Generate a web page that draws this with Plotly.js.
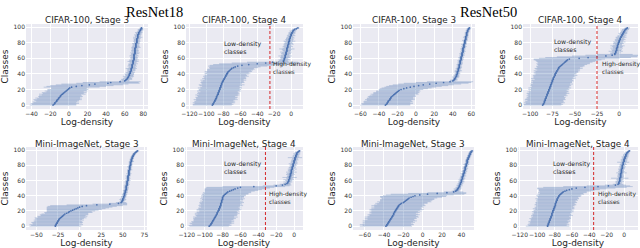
<!DOCTYPE html>
<html>
<head>
<meta charset="utf-8">
<script src="https://cdn.plot.ly/plotly-3.0.1.min.js"></script>
<style>html,body{margin:0;padding:0;background:#fff;}#chart{width:640px;height:248px;}</style>
</head>
<body>
<div id="chart"></div>
<script>
// ---- DATA ----
const classIdx = [0,1,2,3,4,5,6,7,8,9,10,11,12,13,14,15,16,17,18,19,20,21,22,23,24,25,26,27,28,29,30,31,32,33,34,35,36,37,38,39,40,41,42,43,44,45,46,47,48,49,50,51,52,53,54,55,56,57,58,59,60,61,62,63,64,65,66,67,68,69,70,71,72,73,74,75,76,77,78,79,80,81,82,83,84,85,86,87,88,89,90,91,92,93,94,95,96,97,98,99];

const panelTitles = ["CIFAR-100, Stage 3","CIFAR-100, Stage 4","CIFAR-100, Stage 3","CIFAR-100, Stage 4",
                     "Mini-ImageNet, Stage 3","Mini-ImageNet, Stage 4","Mini-ImageNet, Stage 3","Mini-ImageNet, Stage 4"];
const modelTitles = ["ResNet18","ResNet50"];
const thresholds = [null,-25,null,-25,null,-32,null,-35];

// ResNet18, CIFAR-100, Stage 3
const r18CifarS3Mean = [-17,-16,-15,-15,-14,-13,-13,-12,-11,-11,-10,-9,-9,-8,-7,-6,-5,-4,-3,-2,-1,0,1,
  3,8,14,22,28,42,45,55,
  60,61,62,63,63,64,64,65,65,65,66,66,66,67,67,67,67,68,68,68,68,68,69,69,69,69,69,70,70,70,
  70,70,70,70,70,71,71,71,71,71,71,71,71,72,72,72,72,72,72,73,73,73,73,73,73,74,74,74,74,74,75,75,75,76,76,77,77,78,78];
const r18CifarS3Err = [25,24,26,23,25,22,24,26,23,25,22,24,23,21,25,22,24,20,23,21,22,19,20,
  30,32,34,36,36,34,30,22,
  5,4,6,5,4,5,6,4,5,5,4,5,3,4,5,4,6,4,3,5,4,4,5,3,4,6,4,5,3,4,4,3,5,4,3,4,5,3,4,4,
  3,4,3,5,4,3,4,3,4,3,3,4,3,3,4,3,5,3,3,4,3,3,4,3,2,3,3,2,2];

// ResNet18, CIFAR-100, Stage 4
const r18CifarS4Mean = [-93,-92,-92,-91,-91,-90,-90,-89,-89,-88,-88,-88,-87,-87,-86,-86,-86,-85,-85,-85,
  -84,-84,-84,-83,-83,-83,-82,-82,-82,-81,-81,-80,-80,-79,-79,-78,-78,-77,-77,-76,
  -76,-75,-75,-74,-73,-72,-71,-70,-68,-66,
  -63,-58,-50,-40,-30,-22,
  -9,-9,-8,-8,-8,-7,-7,-7,-7,-6,-6,-6,-6,-5,-5,-5,-5,-5,-4,-4,-4,-4,-3,-3,-3,-3,-2,-2,-2,-2,
  -1,-1,-1,0,0,0,1,1,2,2,3,4,6,8];
const r18CifarS4Err = [23,24,22,25,23,24,22,26,23,24,25,22,24,26,23,25,24,22,26,24,
  25,23,26,24,22,25,27,23,24,26,25,24,27,23,26,25,24,27,25,23,26,27,25,28,26,27,28,26,29,30,
  35,38,42,45,40,30,
  6,5,7,5,4,6,5,8,5,4,6,5,7,4,5,6,9,5,4,6,5,4,6,5,4,5,7,4,5,4,5,4,3,5,4,3,4,4,3,4,3,3,2,2];

// ResNet50, CIFAR-100, Stage 3
const r50CifarS3Mean = [-33,-32,-31,-31,-30,-30,-29,-28,-28,-27,-27,-26,-25,-24,-23,-22,-21,-20,-19,-18,
  -16,-13,-10,-6,-2,3,8,15,22,30,37,
  40,41,42,42,43,43,44,44,44,45,45,45,45,46,46,46,46,47,47,47,47,47,48,48,48,48,48,49,49,49,
  49,49,50,50,50,50,50,51,51,51,51,51,51,52,52,52,52,52,53,53,53,53,53,54,54,54,54,54,55,55,
  55,55,55,56,56,56,57,57,58];
const r50CifarS3Err = [27,26,28,25,27,26,24,27,25,26,24,26,25,23,26,24,25,23,24,22,
  24,26,27,28,30,32,33,34,35,30,25,
  3,4,3,2,3,4,3,3,2,3,3,2,3,4,3,2,3,3,2,3,2,3,3,2,3,2,3,2,3,2,3,2,2,3,2,3,2,2,3,2,
  2,3,2,2,3,2,2,3,2,2,2,2,3,2,2,2,3,2,2,2,2,2,2,2,2,2,2,2,2];

// ResNet50, CIFAR-100, Stage 4
const r50CifarS4Mean = [-86,-85,-85,-84,-84,-84,-83,-83,-83,-82,-82,-82,-81,-81,-81,-80,-80,-80,-79,-79,
  -79,-78,-78,-78,-77,-77,-77,-76,-76,-76,-75,-75,-75,-74,-74,-74,-73,-73,-72,-72,
  -72,-71,-71,-70,-70,-69,-69,-68,-68,-67,-66,-65,-64,-63,-62,-61,-60,-59,-58,-56,
  -45,-35,-25,-15,-8,-5,
  -5,-4,-4,-4,-3,-3,-3,-3,-2,-2,-2,-2,-1,-1,-1,0,0,0,1,1,1,2,2,3,3,4,4,5,5,6,6,7,8,9];
const r50CifarS4Err = [21,22,20,23,21,22,20,23,22,21,22,20,23,21,22,24,21,23,22,20,
  23,21,24,22,21,23,22,24,21,23,22,24,23,21,25,22,24,23,25,22,24,23,25,24,26,23,25,27,24,26,
  27,26,28,30,29,31,33,35,38,40,
  45,48,45,38,30,20,
  5,6,4,8,5,6,4,7,5,6,8,5,4,6,5,7,4,5,6,4,5,6,4,5,3,4,5,4,3,4,3,4,3,3];

// ResNet18, Mini-ImageNet, Stage 3
const r18MiniS3Mean = [-28,-28,-27,-27,-26,-26,-25,-25,-24,-24,-23,-22,-21,-20,-19,-18,-17,-15,-13,-12,
  -10,-8,-6,-4,-2,0,3,8,
  20,35,45,48,
  49,49,50,50,50,51,51,51,52,52,52,52,53,53,53,53,54,54,54,54,54,54,55,55,55,55,55,55,56,56,
  56,56,56,56,56,57,57,57,57,57,57,57,58,58,58,58,58,58,59,59,59,59,59,60,60,60,60,61,61,61,
  62,62,63,63,64,65,66,67];
const r18MiniS3Err = [30,28,31,27,29,30,28,26,29,27,28,30,27,29,26,28,27,25,28,26,
  28,30,32,34,36,38,40,42,
  35,20,10,6,
  3,2,3,4,3,2,3,3,2,3,3,2,3,2,3,3,2,3,2,3,2,3,2,3,2,2,3,2,3,2,2,3,2,2,3,2,2,3,2,2,
  2,2,3,2,2,2,3,2,2,2,2,2,2,3,2,2,2,2,2,2,2,2,2,2,2,2,2,2];

// ResNet18, Mini-ImageNet, Stage 4
const r18MiniS4Mean = [-95,-94,-93,-93,-92,-92,-91,-91,-90,-90,-89,-89,-88,-88,-87,-87,-86,-86,-86,-85,
  -85,-84,-84,-84,-83,-83,-83,-82,-82,-82,-82,-81,-81,-81,-81,-80,-80,-80,-80,-79,
  -79,-78,-77,-76,-75,-74,-72,-70,-68,-66,
  -63,-60,-45,-20,-13,-10,
  -8,-7,-7,-6,-6,-6,-5,-5,-5,-5,-4,-4,-4,-4,-3,-3,-3,-3,-3,-2,-2,-2,-2,-1,-1,-1,-1,0,0,0,
  0,1,1,1,1,2,2,2,3,3,3,4,5,6];
const r18MiniS4Err = [22,24,21,23,25,22,24,21,23,22,24,22,25,21,23,24,22,25,23,21,
  24,22,25,23,24,21,23,25,22,24,23,25,22,24,21,23,25,22,24,23,25,24,26,25,27,26,28,30,32,34,
  36,38,35,15,10,6,
  4,3,5,3,4,6,3,4,8,3,4,3,5,4,3,6,3,4,3,5,3,4,3,3,4,3,5,3,4,3,3,4,3,3,8,3,4,3,3,4,3,3,2,2];

// ResNet50, Mini-ImageNet, Stage 3
const r50MiniS3Mean = [-38,-37,-37,-36,-36,-35,-35,-34,-34,-33,-33,-32,-32,-31,-31,-30,-30,-30,-29,-29,
  -28,-28,-27,-27,-26,-26,-25,-25,-24,-23,-22,-20,-19,-18,-17,-16,-15,-14,-12,-10,
  -8,-3,5,15,25,32,
  34,35,36,36,37,37,38,38,38,39,39,39,40,40,40,40,41,41,41,41,42,42,42,42,43,43,43,43,44,44,
  44,44,44,45,45,45,45,46,46,46,46,46,47,47,47,48,48,48,49,49,49,50,50,51];
const r50MiniS3Err = [27,25,28,26,24,27,25,28,26,24,27,25,28,26,24,27,25,23,26,24,
  27,25,28,26,24,27,25,28,26,24,27,25,28,26,27,28,27,29,32,34,
  33,35,38,30,20,10,
  4,3,3,4,3,3,2,3,3,2,3,2,3,3,2,3,2,3,2,2,3,2,2,3,2,2,3,2,2,2,3,2,2,2,2,3,2,2,2,2,
  2,2,2,2,2,2,2,2,2,2,2,2,2,2];

// ResNet50, Mini-ImageNet, Stage 4
const r50MiniS4Mean = [-88,-88,-87,-87,-87,-86,-86,-86,-85,-85,-85,-84,-84,-84,-83,-83,-83,-83,-82,-82,
  -82,-81,-81,-81,-80,-80,-80,-79,-79,-79,-79,-78,-78,-78,-77,-77,-77,-76,-76,-75,
  -75,-74,-73,-72,-71,-70,-68,-66,-63,-60,
  -55,-45,-30,-18,-10,-7,
  -6,-6,-6,-5,-5,-5,-5,-5,-4,-4,-4,-4,-4,-4,-3,-3,-3,-3,-3,-3,-2,-2,-2,-2,-2,-1,-1,-1,-1,0,
  0,0,0,1,1,1,2,2,2,3,3,4,5,6];
const r50MiniS4Err = [25,22,24,21,23,22,24,21,23,22,24,22,23,21,24,22,23,21,22,24,
  22,23,21,24,22,23,21,22,24,23,22,24,23,22,24,23,25,24,23,25,26,24,27,25,28,27,30,32,35,40,
  45,48,40,25,12,6,
  3,4,3,5,3,4,3,10,3,4,3,4,3,3,6,3,4,3,3,4,3,3,4,3,3,4,3,3,7,3,3,4,3,3,3,4,3,3,3,3,3,2,2,2];

// panel order: row 1 (R18 S3, R18 S4, R50 S3, R50 S4), row 2 likewise for Mini-ImageNet
const panelMeans = [r18CifarS3Mean, r18CifarS4Mean, r50CifarS3Mean, r50CifarS4Mean,
                    r18MiniS3Mean, r18MiniS4Mean, r50MiniS3Mean, r50MiniS4Mean];
const panelErrs  = [r18CifarS3Err, r18CifarS4Err, r50CifarS3Err, r50CifarS4Err,
                    r18MiniS3Err, r18MiniS4Err, r50MiniS3Err, r50MiniS4Err];

// ---- LAYOUT (pixels) ----
const W = 640, H = 248;
const colPx = [[26,148],[186,303],[353,475],[523,638],[26,147],[185,303],[353,474],[518,638]];
const rowPx = [[24,109],[147,230]];
const xRanges = [[-46,85],[-124,14],[-68,64],[-108,21],[-62,78],[-122,10],[-72,53],[-122,16]];
const xDticks = [20,20,20,25,25,20,20,20];
// annotation anchor positions in data units [x, y] for low / high labels
const lowPos  = {1:[-81,74.5], 3:[-75.5,75.8], 5:[-80.6,77.7], 7:[-83.5,77.7]};
const highPos = {1:[-24,47.6], 3:[-22,47.6], 5:[-30.3,38.3], 7:[-32.5,38.3]};

const px2x = p => p / W;
const py2y = p => 1 - p / H;

const traces = [];
const layout = {
  width: W, height: H,
  margin: {l:0, r:0, t:0, b:0},
  paper_bgcolor: '#ffffff',
  plot_bgcolor: '#EAEAF2',
  showlegend: false,
  font: {family: 'DejaVu Sans, sans-serif', color: '#262626'},
  annotations: [],
  shapes: []
};

for (let i = 0; i < 8; i++) {
  const n = i + 1;
  const row = i < 4 ? 0 : 1;
  const xs = n === 1 ? '' : String(n);
  traces.push({
    type: 'scatter', mode: 'markers',
    x: panelMeans[i], y: classIdx,
    xaxis: 'x' + xs, yaxis: 'y' + xs,
    marker: {size: 1.7, color: '#4C72B0'},
    error_x: {type: 'data', array: panelErrs[i], symmetric: true,
              color: 'rgba(76,114,176,0.33)', thickness: 0.9, width: 0},
    hoverinfo: 'x+y'
  });
  const xd = [px2x(colPx[i][0]), px2x(colPx[i][1])];
  const yd = [py2y(rowPx[row][1]), py2y(rowPx[row][0])];
  layout['xaxis' + xs] = {
    domain: xd, range: xRanges[i], anchor: 'y' + xs,
    dtick: xDticks[i], tick0: 0, tickangle: 0,
    showgrid: true, gridcolor: '#ffffff', gridwidth: 1,
    zeroline: false, showline: false, ticks: '',
    tickfont: {size: 6, color: '#333333'},
    title: {text: 'Log-density', font: {size: 9, color: '#262626'}, standoff: 1}
  };
  layout['yaxis' + xs] = {
    domain: yd, range: [-5, 104], anchor: 'x' + xs,
    dtick: 20, tick0: 0,
    showgrid: true, gridcolor: '#ffffff', gridwidth: 1,
    zeroline: false, showline: false, ticks: '',
    tickfont: {size: 6, color: '#333333'},
    title: {text: 'Classes', font: {size: 9, color: '#262626'}, standoff: 3}
  };
  // panel title
  layout.annotations.push({
    xref: 'paper', yref: 'paper',
    x: (xd[0] + xd[1]) / 2, y: py2y(rowPx[row][0] - 3.5),
    xanchor: 'center', yanchor: 'middle', showarrow: false,
    text: panelTitles[i], font: {size: 8.8, color: '#262626'}
  });
  if (thresholds[i] !== null) {
    layout.shapes.push({
      type: 'line', xref: 'x' + xs, yref: 'y' + xs + ' domain',
      x0: thresholds[i], x1: thresholds[i], y0: 0, y1: 1,
      line: {color: '#D62728', width: 1, dash: '3px,2px'}
    });
    layout.annotations.push({
      xref: 'x' + xs, yref: 'y' + xs, x: lowPos[i][0], y: lowPos[i][1],
      xanchor: 'left', yanchor: 'middle', align: 'left', showarrow: false,
      text: 'Low-density<br>classes', font: {size: 6.2, color: '#262626'}
    });
    layout.annotations.push({
      xref: 'x' + xs, yref: 'y' + xs, x: highPos[i][0], y: highPos[i][1],
      xanchor: 'left', yanchor: 'middle', align: 'left', showarrow: false,
      text: 'High-density<br>classes', font: {size: 6.0, color: '#262626'}
    });
  }
}

// model titles
layout.annotations.push({xref:'paper', yref:'paper', x: px2x(154), y: py2y(12), xanchor:'center', yanchor:'middle',
  showarrow:false, text: modelTitles[0], font:{family:'Liberation Serif, Times New Roman, serif', size:14.5, color:'#000'}});
layout.annotations.push({xref:'paper', yref:'paper', x: px2x(488), y: py2y(12), xanchor:'center', yanchor:'middle',
  showarrow:false, text: modelTitles[1], font:{family:'Liberation Serif, Times New Roman, serif', size:14.5, color:'#000'}});

Plotly.newPlot('chart', traces, layout, {displayModeBar: false, staticPlot: true});
</script>
</body>
</html>
